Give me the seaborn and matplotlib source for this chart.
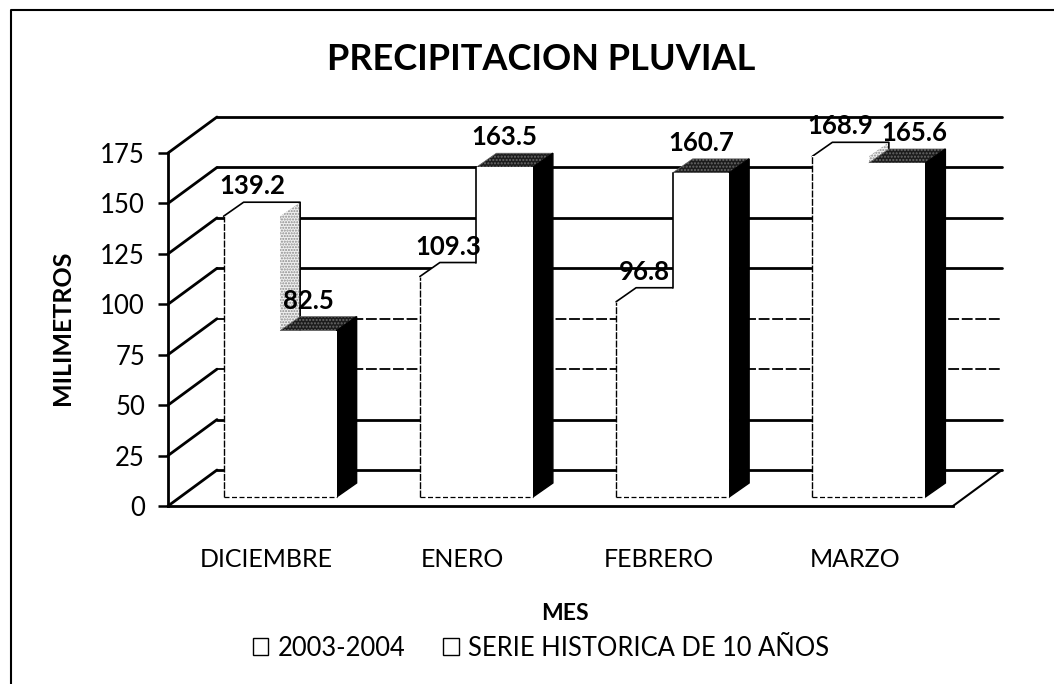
import pandas as pd
import seaborn as sns
import matplotlib.pyplot as plt
from matplotlib.patches import Polygon
from matplotlib.lines import Line2D
from matplotlib.transforms import Affine2D

# ---------- datos ----------
MESES = ["DICIEMBRE", "ENERO", "FEBRERO", "MARZO"]
SERIE_2003 = [139.2, 109.3, 96.8, 168.9]
SERIE_HIST = [82.5, 163.5, 160.7, 165.6]
NOMBRES = ["2003-2004", "SERIE HISTORICA DE 10 AÑOS"]
TICKS_Y = [0, 25, 50, 75, 100, 125, 150, 175]
TICKS_PUNTEADOS = [50, 75]

W, H = 1054, 684

sns.set_style("white")
plt.rcParams["font.family"] = ["Lato", "DejaVu Sans"]

df = pd.DataFrame({
    "mes": MESES * 2,
    "valor": SERIE_2003 + SERIE_HIST,
    "serie": [NOMBRES[0]] * 4 + [NOMBRES[1]] * 4,
})

fig = plt.figure(figsize=(W / 100, H / 100), dpi=100)
# plano frontal del grafico, en pixeles de la imagen
ax = fig.add_axes([168 / W, 1 - 506 / H, (953 - 168) / W, (506 - 153) / H])

sns.barplot(data=df, x="mes", y="valor", hue="serie", hue_order=NOMBRES,
            order=MESES, palette=["white", "white"], width=0.576, gap=0,
            saturation=1, linewidth=0, errorbar=None, ax=ax, zorder=3)
ax.set_xlim(-0.5, 3.5)
ax.set_ylim(0, 175)

# ---------- transformaciones para el efecto 3D (en pixeles) ----------
pared = ax.transData + Affine2D().translate(49, 36)
frente = ax.transData + Affine2D().translate(14, 9)
fondo = frente + Affine2D().translate(20, 14)

# pared del fondo y lineas oblicuas
for t in TICKS_Y:
    punteado = t in TICKS_PUNTEADOS
    ax.plot([-0.5, 3.5], [t, t], transform=pared, color="black",
            lw=1.3 if punteado else 2, ls=(0, (6, 1.5)) if punteado else "-",
            zorder=1, clip_on=False)
    ax.annotate("", xy=(-0.5, t), xycoords=pared, xytext=(-0.5, t),
                textcoords="data",
                arrowprops=dict(arrowstyle="-", color="black", lw=2,
                                shrinkA=0, shrinkB=0), zorder=1)
ax.annotate("", xy=(3.5, 0), xycoords=pared, xytext=(3.5, 0), textcoords="data",
            arrowprops=dict(arrowstyle="-", color="black", lw=1.5,
                            shrinkA=0, shrinkB=0), zorder=1)


def a_pixeles(puntos, trans_lista):
    return [tr.transform(p) for p, tr in zip(puntos, trans_lista)]


def cara(puntos, trans_lista, z, **kw):
    # puntos en datos; cada uno con su transformacion
    ax.add_patch(Polygon(a_pixeles(puntos, trans_lista), closed=True,
                         transform=None, zorder=z, clip_on=False, **kw))


cont1, cont2 = ax.containers[0], ax.containers[1]
fig.canvas.draw()

for i, (b1, b2) in enumerate(zip(cont1, cont2)):
    x0, x1, h1 = b1.get_x(), b1.get_x() + b1.get_width(), b1.get_height()
    x2, x3, h2 = b2.get_x(), b2.get_x() + b2.get_width(), b2.get_height()
    b1.set_transform(frente)
    b2.set_transform(frente)

    # serie 1: tapa y lado, sin linea en la arista frontal
    cara([(x0, h1), (x0, h1), (x1, h1), (x1, h1)],
         [frente, fondo, fondo, frente], 2,
         facecolor="white", edgecolor="none")
    cara([(x1, 0), (x1, 0), (x1, h1), (x1, h1)],
         [frente, fondo, fondo, frente], 2,
         facecolor="#f0f0f0", edgecolor="#8a8a8a", lw=0, hatch="......")
    borde = a_pixeles([(x0, h1), (x0, h1), (x1, h1), (x1, 0)],
                      [frente, fondo, fondo, fondo])
    ax.add_line(Line2D([p[0] for p in borde], [p[1] for p in borde],
                       transform=None, color="black", lw=1.2, zorder=2,
                       clip_on=False))

    # serie 2: tapa oscura y lado negro
    cara([(x2, h2), (x2, h2), (x3, h2), (x3, h2)],
         [frente, fondo, fondo, frente], 4,
         facecolor="#1c1c1c", edgecolor="#6a6a6a", lw=0.5, hatch=".....")
    cara([(x3, 0), (x3, 0), (x3, h2), (x3, h2)],
         [frente, fondo, fondo, frente], 4,
         facecolor="black", edgecolor="black", lw=1)

    # bordes finos del frente
    ax.plot([x0, x0], [0, h1], transform=frente, color="black", lw=1,
            ls=(0, (5, 1)), zorder=6, clip_on=False)
    ax.plot([x0, x3], [0, 0], transform=frente, color="black", lw=0.9,
            ls=(0, (4, 2)), zorder=6, clip_on=False)
    if h2 > h1:
        # arista izquierda de la barra alta: baja hasta el fondo de la tapa vecina
        arriba = frente.transform((x2, h2))
        abajo = (arriba[0], fondo.transform((x2, h1))[1])
        ax.add_line(Line2D([arriba[0], abajo[0]], [arriba[1], abajo[1]],
                           transform=None, color="black", lw=1.2, zorder=6,
                           clip_on=False))

    # etiquetas de valores; la ultima va corrida para no pisar a su vecina
    corrida = 17 if i == len(MESES) - 1 else 0
    for x, h, dx in [((x0 + x1) / 2, h1, 0), ((x2 + x3) / 2, h2, corrida)]:
        ax.annotate(f"{h:.1f}", xy=(x, h), xycoords=frente, xytext=(dx, 30),
                    textcoords="offset pixels", ha="center", va="center",
                    fontsize=18.5, fontweight="bold", color="black", zorder=8,
                    annotation_clip=False)

for b in list(cont2):
    b.set_zorder(5)

# ---------- ejes ----------
sns.despine(ax=ax, top=True, right=True)
for s in ["left", "bottom"]:
    ax.spines[s].set_linewidth(2)
    ax.spines[s].set_color("black")
    ax.spines[s].set_zorder(7)
ax.set_yticks(TICKS_Y)
ax.tick_params(axis="y", length=7.5, width=1.8, color="black", left=True,
               labelsize=18.5, pad=9, labelcolor="black")
ax.tick_params(axis="x", length=0, labelsize=18, pad=30, labelcolor="black")
ax.set_xlabel("")
ax.set_ylabel("")
ax.patch.set_alpha(0)

# ---------- textos ----------
fig.text(541 / W, 1 - 60 / H, "PRECIPITACION PLUVIAL", ha="center", va="center",
         fontsize=26, fontweight="bold", color="black")
fig.text(62 / W, 1 - 328 / H, "MILIMETROS", rotation=90, ha="center", va="center",
         fontsize=18, fontweight="bold", color="black")
fig.text(565 / W, 1 - 614 / H, "MES", ha="center", va="center",
         fontsize=16.5, fontweight="bold", color="black")

handles, labels = ax.get_legend_handles_labels()
for h in handles:
    h.set_edgecolor("black")
    h.set_linewidth(1)
ax.legend(handles, labels, loc="center", ncol=2, frameon=False, fontsize=18.4,
          bbox_to_anchor=(541 / W, 1 - 648 / H), bbox_transform=fig.transFigure,
          handlelength=0.6, handleheight=0.6, handletextpad=0.35, columnspacing=1.5,
          labelcolor="black")

# marco exterior: solo arriba y a la izquierda
fig.add_artist(Line2D([11 / W, 11 / W, 1], [0, 1 - 10 / H, 1 - 10 / H],
                      color="black", lw=1.5, transform=fig.transFigure))

fig.savefig("out.png", dpi=100)
